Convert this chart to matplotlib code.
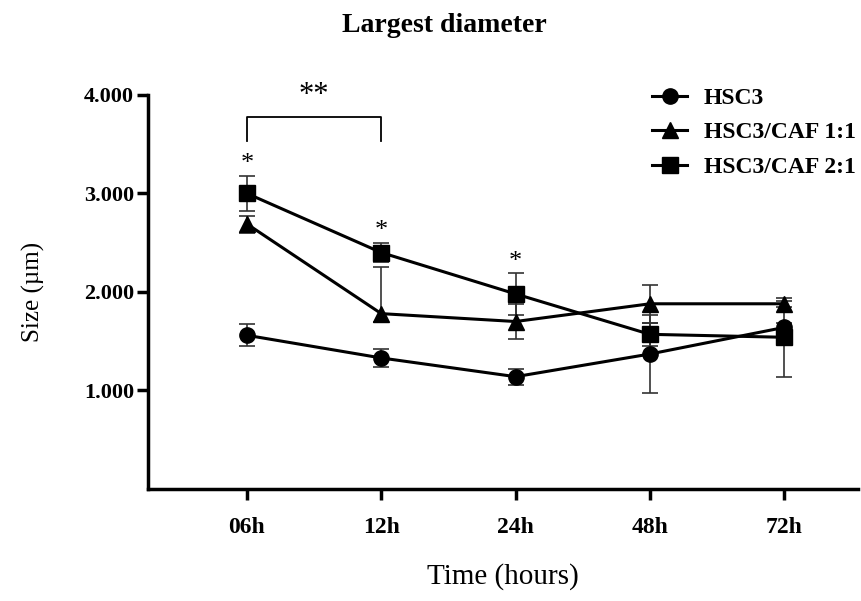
import numpy as np
import matplotlib
matplotlib.use("Agg")
import matplotlib.pyplot as plt
from matplotlib.lines import Line2D

# values
times = ["06h", "12h", "24h", "48h", "72h"]
hsc3 = [1.56, 1.33, 1.14, 1.37, 1.64]
hsc3_err = [0.11, 0.09, 0.08, 0.40, 0.05]
caf11 = [2.69, 1.78, 1.70, 1.88, 1.88]
caf11_lo = [0.09, 0.08, 0.18, 0.19, 0.03]
caf11_hi = [0.08, 0.47, 0.18, 0.19, 0.03]
caf21 = [3.00, 2.40, 1.98, 1.57, 1.54]
caf21_err = [0.18, 0.10, 0.21, 0.12, 0.40]
labels = ["HSC3", "HSC3/CAF 1:1", "HSC3/CAF 2:1"]
markers = ["o", "^", "s"]
star_idx = [0, 1, 2]
star_y = [3.30, 2.62, 2.30]
yticks = [1, 2, 3, 4]
ytick_labels = ["1.000", "2.000", "3.000", "4.000"]

plt.rcParams["font.family"] = ["Liberation Serif", "DejaVu Serif"]

fig = plt.figure(figsize=(8.62, 6.01), dpi=100)
ax = fig.add_axes([0.1717, 0.1864, 0.8237, 0.6556])

x = np.arange(len(times))
line_kw = dict(color="black", lw=2.2, ecolor="#333333", elinewidth=1.2,
               capsize=6, capthick=1.2, markersize=11)

ax.errorbar(x, hsc3, yerr=hsc3_err, marker=markers[0], **line_kw)
ax.errorbar(x, caf11, yerr=[caf11_lo, caf11_hi], marker=markers[1], **line_kw)
ax.errorbar(x, caf21, yerr=caf21_err, marker=markers[2], **line_kw)

# significance marks
for i, sy in zip(star_idx, star_y):
    ax.text(x[i], sy, "*", ha="center", va="center", fontsize=19)
ax.plot([x[0], x[0], x[1], x[1]], [3.53, 3.78, 3.78, 3.53], color="black",
        lw=1.3)
ax.text((x[0] + x[1]) / 2, 3.99, "**", ha="center", va="center", fontsize=22)

ax.set_xlim(-0.737, 4.55)
ax.set_ylim(0, 4)
ax.set_xticks(x)
ax.set_xticklabels(times, fontweight="bold", fontsize=17)
ax.set_yticks(yticks)
ax.set_yticklabels(ytick_labels, fontweight="bold", fontsize=16)
ax.tick_params(width=2.5, length=8, pad=2)
ax.tick_params(axis="x", pad=12)

for side in ["top", "right"]:
    ax.spines[side].set_visible(False)
for side in ["left", "bottom"]:
    ax.spines[side].set_linewidth(2.5)

ax.set_xlabel("Time (hours)", fontsize=21, labelpad=18)
ax.set_ylabel("Size (µm)", fontsize=18, labelpad=28)
fig.suptitle("Largest diameter", fontweight="bold", fontsize=20, x=0.515,
             y=0.978)

handles = [Line2D([], [], color="black", lw=2.2, marker=m, markersize=11)
           for m in markers]
ax.legend(handles, labels, loc="upper left", bbox_to_anchor=(0.68, 1.073),
          frameon=False, prop={"weight": "bold", "size": 17},
          handlelength=1.5, handletextpad=0.7, labelspacing=0.55)

fig.savefig("out.png", dpi=100)
